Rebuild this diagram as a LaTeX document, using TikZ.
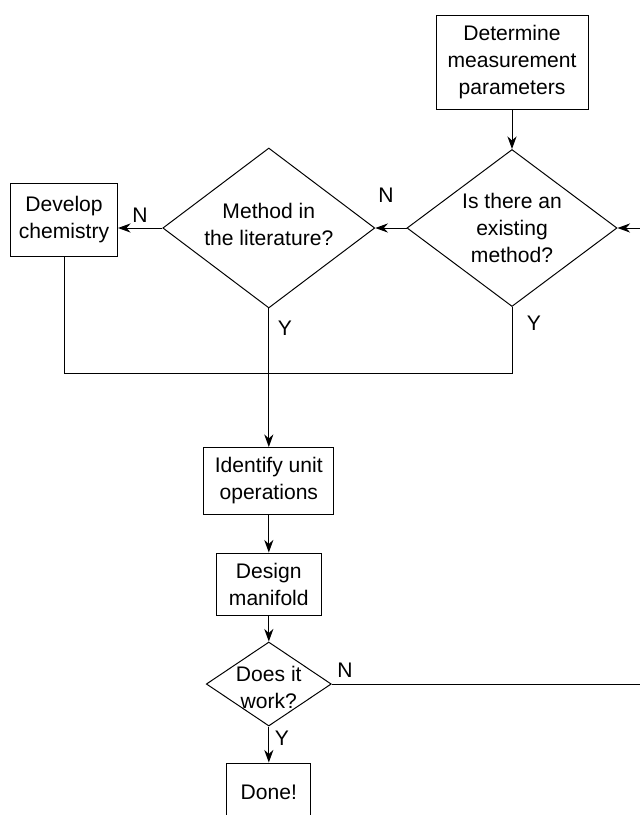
\documentclass[tikz,border=0pt]{standalone}
\usepackage{fontspec}
\setmainfont{Liberation Sans}
\usetikzlibrary{shapes.geometric,arrows.meta}

\begin{document}
\begin{tikzpicture}[
	line width=0.7pt,
	font=\fontsize{15}{19.2}\selectfont,
	box/.style 2 args={draw, rectangle, align=center, inner sep=0pt, minimum width=#1, minimum height=#2},
	decision/.style 2 args={draw, diamond, inner sep=0pt, minimum width=#1, minimum height=#2},
	flow/.style={-{Stealth[length=9pt,width=6.5pt]}}
	]
		\useasboundingbox (0,0) rectangle (16,-20.375);
		\clip (0,0) rectangle (16,-20.375);
		% boxes and decisions
		\node[box={3.8cm}{2.35cm}] (determine) at (12.8,-1.55) {Determine\\measurement\\parameters};
		\node[decision={5.25cm}{3.925cm}] (exist) at (12.8,-5.7) {};
		\node[align=center] (existtext) at (exist) {Is there an\\existing\\method?};
		\node[decision={5.3cm}{4cm}] (lit) at (6.72,-5.7) {};
		\node[align=center] (littext) at (6.72,-5.62) {Method in\\the literature?};
		\node[box={2.675cm}{1.825cm}] (develop) at (1.6,-5.5) {Develop\\chemistry};
		\node[box={3.25cm}{1.675cm}] (identify) at (6.72,-12.025) {Identify unit\\operations};
		\node[box={2.625cm}{1.55cm}] (design) at (6.72,-14.6) {Design\\manifold};
		\node[decision={3.125cm}{2.1cm}] (work) at (6.72,-17.1) {};
		\node[align=center] (worktext) at (6.72,-17.18) {Does it\\work?};
		\node[box={2.1cm}{1.45cm}] (done) at (6.72,-19.8) {Done!};
		\coordinate (join) at (0,-9.325);
		% connectors
		\draw[flow] (determine) -- (exist);
		\draw[flow] (exist.west) -- (lit.east);
		\draw[flow] (lit.west) -- (lit.west -| develop.east);
		\draw (develop.south) |- (exist.south |- join) -- (exist.south);
		\draw[flow] (lit.south) -- (identify.north);
		\draw[flow] (identify.south) -- (design.north);
		\draw[flow] (design.south) -- (work.north);
		\draw[flow] (work.south) -- (done.north);
		\draw[flow] (work.east) -- ++(8.5,0) |- (exist.east);
		% Y and N labels
		\node (existN) at (9.65,-4.875) {N};
		\node (litN) at (3.5,-5.375) {N};
		\node (litY) at (7.125,-8.2) {Y};
		\node (existY) at (13.35,-8.075) {Y};
		\node (workN) at (8.625,-16.75) {N};
		\node (workY) at (7.05,-18.45) {Y};
	\end{tikzpicture}
\end{document}
